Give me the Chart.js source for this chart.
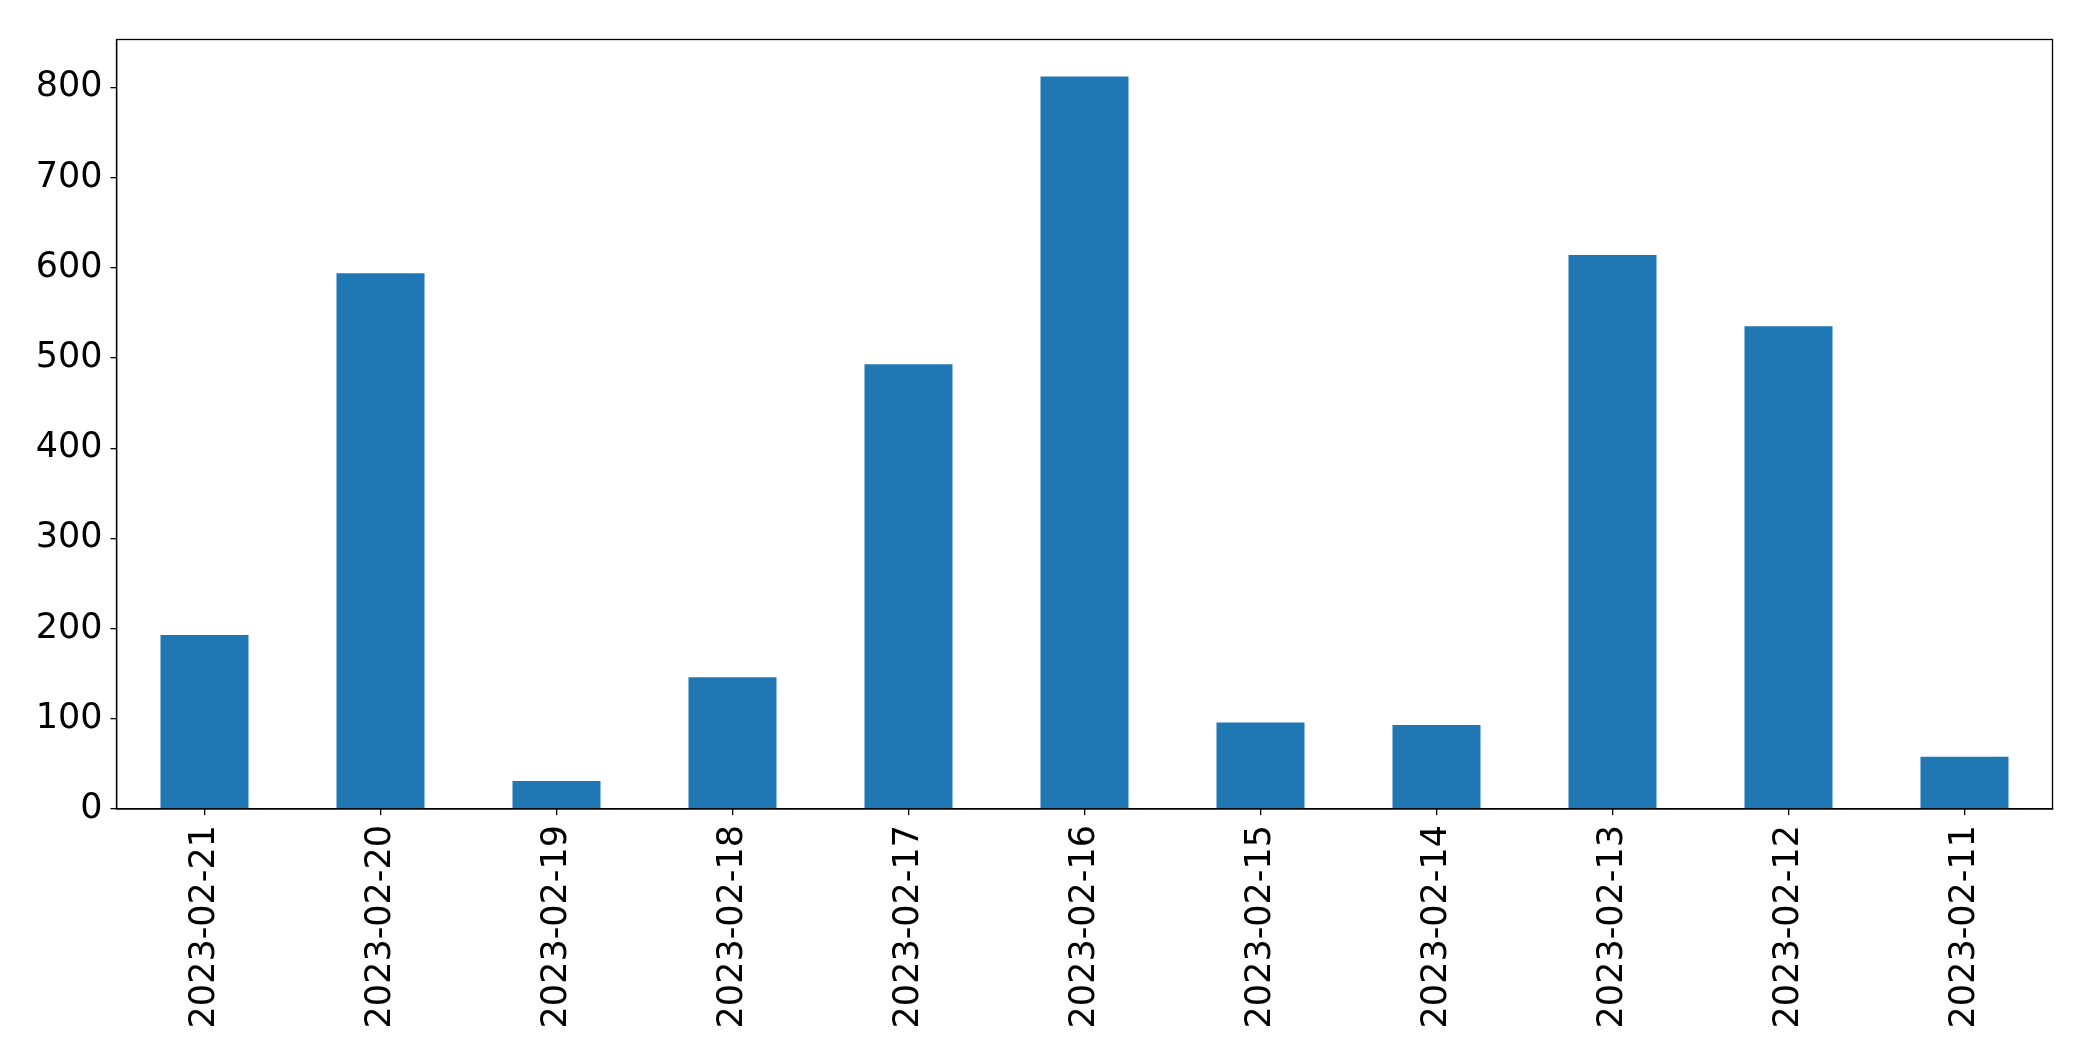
<!DOCTYPE html>
<html>
<head>
<meta charset="utf-8">
<script src="https://cdn.jsdelivr.net/npm/chart.js@4"></script>
<style>
    html, body { margin: 0; padding: 0; background: #fff; }
    #wrap { width: 2093px; height: 1061px; }
</style>
</head>
<body>
<div id="wrap"><canvas id="grafico"></canvas></div>
<script>
// Datos del gráfico
const fechas = ['2023-02-21', '2023-02-20', '2023-02-19', '2023-02-18', '2023-02-17', '2023-02-16',
                '2023-02-15', '2023-02-14', '2023-02-13', '2023-02-12', '2023-02-11'];
const valores = [193, 594, 31, 146, 493, 812, 96, 93, 614, 535, 58];
const ticksY = [0, 100, 200, 300, 400, 500, 600, 700, 800];

// Marco negro alrededor del área del gráfico
const marco = {
    id: 'marco',
    afterDraw(chart) {
        const { ctx, chartArea: a } = chart;
        ctx.save();
        ctx.strokeStyle = '#000';
        ctx.lineWidth = 1.3;
        ctx.strokeRect(a.left, a.top, a.right - a.left, a.bottom - a.top);
        ctx.restore();
    }
};

const fuente = { family: 'DejaVu Sans', size: 35 };

new Chart(document.getElementById('grafico').getContext('2d'), {
    type: 'bar',
    data: {
        labels: fechas,
        datasets: [{
            data: valores,
            backgroundColor: '#1f77b4',
            barPercentage: 0.5,
            categoryPercentage: 1.0
        }]
    },
    options: {
        responsive: true,
        maintainAspectRatio: false,
        animation: false,
        layout: { padding: { top: 39.5, right: 40.5, left: 0, bottom: 0 } },
        plugins: { legend: { display: false }, tooltip: { enabled: false } },
        scales: {
            x: {
                grid: { offset: false, drawOnChartArea: false, drawTicks: true, tickLength: 6, color: '#000', lineWidth: 1.3 },
                border: { display: true, color: '#000', width: 1.3 },
                ticks: { color: '#000', font: fuente, minRotation: 90, maxRotation: 90, padding: 10, autoSkip: false },
                afterFit(scale) { scale.height = 252; }
            },
            y: {
                min: 0,
                max: 853,
                grid: { drawOnChartArea: false, drawTicks: true, tickLength: 6, color: '#000', lineWidth: 1.3 },
                border: { display: true, color: '#000', width: 1.3 },
                ticks: { color: '#000', font: fuente, padding: 8, stepSize: 100 },
                afterBuildTicks(scale) {
                    scale.ticks = ticksY.map(v => ({ value: v }));
                },
                afterFit(scale) { scale.width = 116.5; }
            }
        }
    },
    plugins: [marco]
});
</script>
</body>
</html>
